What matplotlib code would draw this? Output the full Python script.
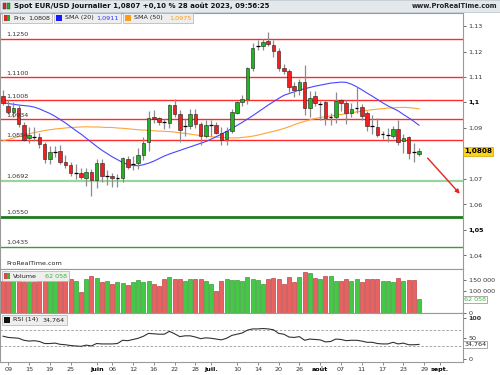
import numpy as np
import pandas as pd
import matplotlib
matplotlib.use('Agg')
import matplotlib.pyplot as plt
from matplotlib.patches import Rectangle

plt.rcParams['font.family'] = ['DejaVu Sans']

# daily candles, EUR/USD, 8 May -> 28 Aug 2023
opens = [1.1024, 1.0986, 1.0963, 1.0980, 1.0912, 1.0862, 1.0868, 1.0865, 1.0837, 1.0778,
         1.0806, 1.0810, 1.0767, 1.0755, 1.0723, 1.0723, 1.0704, 1.0727, 1.0696, 1.0763,
         1.0711, 1.0712, 1.0704, 1.0704, 1.0778, 1.0758, 1.0763, 1.0794, 1.0845, 1.0943,
         1.0939, 1.0924, 1.0920, 1.0990, 1.0955, 1.0906, 1.0908, 1.0955, 1.0916, 1.0869,
         1.0910, 1.0910, 1.0882, 1.0856, 1.0888, 1.0960, 1.1002, 1.1014, 1.1135, 1.1220,
         1.1222, 1.1240, 1.1226, 1.1202, 1.1134, 1.1122, 1.1063, 1.1049, 1.1082, 1.0978,
         1.1024, 1.0994, 1.1002, 1.0941, 1.0945, 1.1010, 1.0998, 1.0959, 1.0976, 1.0984,
         1.0959, 1.0908, 1.0904, 1.0876, 1.0873, 1.0869, 1.0896, 1.0849, 1.0865, 1.0807,
         1.0798]
highs = [1.1050, 1.1008, 1.1000, 1.0992, 1.0925, 1.0905, 1.0905, 1.0880, 1.0846, 1.0830,
         1.0830, 1.0835, 1.0795, 1.0765, 1.0760, 1.0745, 1.0745, 1.0740, 1.0778, 1.0780,
         1.0735, 1.0725, 1.0720, 1.0787, 1.0790, 1.0790, 1.0823, 1.0865, 1.0967, 1.0970,
         1.0945, 1.0935, 1.0995, 1.1012, 1.0970, 1.0935, 1.0975, 1.0975, 1.0925, 1.0930,
         1.0932, 1.0922, 1.0902, 1.0905, 1.0976, 1.1005, 1.1030, 1.1140, 1.1232, 1.1245,
         1.1250, 1.1276, 1.1244, 1.1215, 1.1150, 1.1130, 1.1080, 1.1092, 1.1149, 1.1045,
         1.1045, 1.1005, 1.1010, 1.0960, 1.1040, 1.1012, 1.1010, 1.0998, 1.1061, 1.0995,
         1.0965, 1.0950, 1.0940, 1.0890, 1.0900, 1.0906, 1.0930, 1.0875, 1.0870, 1.0840,
         1.0820]
lows = [1.0990, 1.0955, 1.0942, 1.0905, 1.0848, 1.0840, 1.0850, 1.0823, 1.0762, 1.0760,
        1.0786, 1.0760, 1.0745, 1.0710, 1.0700, 1.0700, 1.0673, 1.0635, 1.0666, 1.0690,
        1.0675, 1.0667, 1.0667, 1.0690, 1.0740, 1.0735, 1.0740, 1.0775, 1.0810, 1.0920,
        1.0910, 1.0897, 1.0900, 1.0945, 1.0845, 1.0870, 1.0895, 1.0900, 1.0835, 1.0860,
        1.0870, 1.0875, 1.0835, 1.0833, 1.0880, 1.0955, 1.0985, 1.0995, 1.1122, 1.1205,
        1.1205, 1.1220, 1.1180, 1.1122, 1.1110, 1.1040, 1.1020, 1.1030, 1.0950, 1.0945,
        1.0985, 1.0930, 1.0912, 1.0910, 1.0920, 1.0965, 1.0915, 1.0945, 1.0960, 1.0930,
        1.0890, 1.0875, 1.0865, 1.0855, 1.0845, 1.0860, 1.0835, 1.0800, 1.0780, 1.0766,
        1.0790]
closes = [1.0999, 1.0963, 1.0978, 1.0915, 1.0853, 1.0872, 1.0862, 1.0837, 1.0778, 1.0806,
          1.0807, 1.0767, 1.0755, 1.0723, 1.0724, 1.0708, 1.0727, 1.0696, 1.0763, 1.0712,
          1.0713, 1.0704, 1.0705, 1.0782, 1.0747, 1.0763, 1.0794, 1.0841, 1.0939, 1.0935,
          1.0924, 1.0922, 1.0990, 1.0955, 1.0892, 1.0908, 1.0955, 1.0916, 1.0869, 1.0910,
          1.0911, 1.0882, 1.0853, 1.0888, 1.0962, 1.1002, 1.1014, 1.1135, 1.1214, 1.1224,
          1.1238, 1.1228, 1.1202, 1.1134, 1.1122, 1.1061, 1.1049, 1.1082, 1.0978, 1.1016,
          1.0998, 1.0998, 1.0941, 1.0945, 1.1004, 1.0998, 1.0959, 1.0973, 1.0980, 1.0947,
          1.0908, 1.0904, 1.0873, 1.0876, 1.0874, 1.0896, 1.0845, 1.0861, 1.0802, 1.0805,
          1.0808]

sma20 = [1.1000, 1.0996, 1.0993, 1.0990, 1.0988, 1.0986, 1.0982, 1.0975, 1.0966, 1.0957,
         1.0946, 1.0933, 1.0920, 1.0905, 1.0890, 1.0876, 1.0860, 1.0844, 1.0828, 1.0813,
         1.0800, 1.0787, 1.0776, 1.0765, 1.0757, 1.0753, 1.0752, 1.0756, 1.0762, 1.0770,
         1.0780, 1.0790, 1.0798, 1.0805, 1.0812, 1.0819, 1.0826, 1.0833, 1.0840, 1.0847,
         1.0856, 1.0866, 1.0876, 1.0887, 1.0898, 1.0910, 1.0922, 1.0935, 1.0948, 1.0962,
         1.0976, 1.0990, 1.1003, 1.1016, 1.1028, 1.1035, 1.1042, 1.1049, 1.1054, 1.1059,
         1.1064, 1.1068, 1.1072, 1.1076, 1.1078, 1.1080, 1.1079, 1.1072, 1.1062, 1.1050,
         1.1037, 1.1025, 1.1012, 1.0999, 1.0987, 1.0977, 1.0967, 1.0953, 1.0940, 1.0926,
         1.0911]
sma50 = [1.0850, 1.0855, 1.0861, 1.0866, 1.0872, 1.0877, 1.0882, 1.0886, 1.0890, 1.0893,
         1.0896, 1.0898, 1.0900, 1.0902, 1.0903, 1.0904, 1.0905, 1.0904, 1.0904, 1.0903,
         1.0902, 1.0902, 1.0900, 1.0899, 1.0897, 1.0895, 1.0893, 1.0892, 1.0891, 1.0889,
         1.0888, 1.0887, 1.0886, 1.0884, 1.0881, 1.0879, 1.0876, 1.0873, 1.0870, 1.0868,
         1.0866, 1.0864, 1.0863, 1.0862, 1.0861, 1.0861, 1.0863, 1.0865, 1.0868, 1.0872,
         1.0877, 1.0882, 1.0887, 1.0892, 1.0898, 1.0905, 1.0913, 1.0920, 1.0926, 1.0932,
         1.0937, 1.0941, 1.0944, 1.0947, 1.0950, 1.0953, 1.0956, 1.0960, 1.0963, 1.0966,
         1.0969, 1.0972, 1.0974, 1.0976, 1.0978, 1.0979, 1.0980, 1.0981, 1.0980, 1.0978,
         1.0975]

volume = [147, 147, 147, 150, 139, 139, 139, 145, 147, 153,
          153, 153, 153, 153, 145, 94, 154, 168, 157, 139,
          145, 132, 139, 135, 127, 139, 150, 139, 147, 130,
          122, 154, 164, 154, 154, 147, 153, 153, 153, 147,
          132, 102, 145, 154, 148, 148, 145, 162, 153, 148,
          132, 153, 157, 153, 130, 162, 139, 162, 185, 180,
          157, 153, 168, 168, 147, 145, 154, 147, 154, 139,
          154, 154, 153, 147, 145, 140, 157, 145, 148, 148,
          62.058]

rsi = [55, 52, 51, 50, 45, 43, 44, 42, 37, 37,
       38, 35, 34, 32, 31, 30, 33, 31, 37, 36,
       36, 36, 37, 45, 44, 47, 50, 55, 62, 61,
       60, 60, 67, 61, 54, 56, 56, 53, 49, 51,
       50, 48, 46, 50, 57, 60, 63, 70, 73, 73,
       74, 73, 71, 62, 60, 53, 52, 54, 45, 48,
       47, 46, 41, 42, 48, 47, 44, 45, 45, 43,
       40, 40, 37, 36, 36, 40, 36, 38, 34, 34,
       34.764]

# support / resistance levels drawn on the chart
res_levels = [1.1250, 1.1100, 1.1008, 1.0934, 1.0854]
sup_levels = [1.0692, 1.0550, 1.0435]
sup_colors = ['#9ad49a', '#1f7a1f', '#3c9c3c']
sup_widths = [1.6, 2.0, 1.0]

tick_dates = ['2023-05-09', '2023-05-15', '2023-05-19', '2023-05-25', '2023-06-01',
              '2023-06-06', '2023-06-12', '2023-06-16', '2023-06-22', '2023-06-28',
              '2023-07-03', '2023-07-10', '2023-07-14', '2023-07-20', '2023-07-26',
              '2023-08-01', '2023-08-07', '2023-08-11', '2023-08-17', '2023-08-23',
              '2023-08-29', '2023-09-01']
tick_labels = ['09', '15', '19', '25', 'juin', '06', '12', '16', '22', '28', 'juil.',
               '10', '14', '20', '26', 'août', '07', '11', '17', '23', '29', 'sept.']
month_labels = ['juin', 'juil.', 'août', 'sept.']

days = pd.bdate_range('2023-05-08', '2023-09-15')
n = len(closes)
x = np.arange(n)

W, H = 500, 375
fig = plt.figure(figsize=(5, 3.75), dpi=100)
fig.patch.set_facecolor('white')


def box(x0, y0, x1, y1):
    # pixel box (top-left origin) -> figure fraction
    return [x0 / W, 1 - y1 / H, (x1 - x0) / W, (y1 - y0) / H]


ax_p = fig.add_axes(box(0, 13, 463, 269))
ax_v = fig.add_axes(box(0, 269, 463, 313), sharex=ax_p)
ax_r = fig.add_axes(box(0, 313, 463, 362), sharex=ax_p)

fs = 4.6
gray = '#9a9a9a'
for ax in (ax_p, ax_v, ax_r):
    ax.set_facecolor('white')
    for s in ax.spines.values():
        s.set_color(gray)
        s.set_linewidth(0.8)
    ax.yaxis.tick_right()
    ax.tick_params(axis='y', direction='out', length=2, width=0.6, color='#555555',
                   labelsize=fs, labelcolor='#333333', pad=2)
    ax.tick_params(axis='x', length=0, labelbottom=False)

ax_p.set_xlim(-0.58, 88.46)
ax_p.set_ylim(1.0347, 1.1351)
ax_v.set_ylim(0, 200000)
ax_r.set_ylim(-8.6, 112.3)

# price panel
for lv in res_levels:
    ax_p.axhline(lv, color='#ff2b2b', lw=1.0, zorder=1)
    ax_p.text(0.6, lv + 0.0006, ('%.4f' % lv).replace('.', ','), fontsize=fs,
              color='#333333', va='bottom', ha='left', zorder=5)
for lv, c, w in zip(sup_levels, sup_colors, sup_widths):
    ax_p.axhline(lv, color=c, lw=w, zorder=1)
    ax_p.text(0.6, lv + 0.0008, ('%.4f' % lv).replace('.', ','), fontsize=fs,
              color='#333333', va='bottom', ha='left', zorder=5)

ax_p.plot(x, sma50, color='#ffa436', lw=0.8, zorder=2)
ax_p.plot(x, sma20, color='#4646ff', lw=0.8, zorder=2)

bw = 0.72
for i in range(n):
    o, h, l, c = opens[i], highs[i], lows[i], closes[i]
    ax_p.vlines(i, l, h, color='#8c8c8c', lw=0.9, zorder=3)
    if abs(c - o) < 0.0006:
        ax_p.hlines((o + c) / 2, i - bw / 2, i + bw / 2, color='black', lw=0.9, zorder=4)
    else:
        fc = '#22b422' if c > o else '#f02020'
        ax_p.add_patch(Rectangle((i - bw / 2, min(o, c)), bw, abs(c - o),
                                 facecolor=fc, edgecolor='#202020', lw=0.4, zorder=4))

ax_p.annotate('', xy=(88.2, 1.0634), xytext=(81.3, 1.0790),
              arrowprops=dict(arrowstyle='-|>', color='#ee2020', lw=1.0,
                              mutation_scale=6), zorder=6)

ax_p.set_yticks([1.04, 1.05, 1.06, 1.07, 1.08, 1.09, 1.10, 1.11, 1.12, 1.13])
ax_p.set_yticklabels(['1,04', '1,05', '1,06', '1,07', '', '1,09', '1,1', '1,11',
                      '1,12', '1,13'])
for lab in ax_p.get_yticklabels():
    if lab.get_text() in ('1,1', '1,05'):
        lab.set_fontweight('bold')
        lab.set_color('black')
ax_p.text(1.003, closes[-1], ('%.4f' % closes[-1]).replace('.', ','),
          transform=ax_p.get_yaxis_transform(), fontsize=fs + 0.6, fontweight='bold',
          va='center', ha='left', zorder=7,
          bbox=dict(boxstyle='square,pad=0.15', fc='#ffd21a', ec='#c9a400', lw=0.5))
ax_p.text(0.6, 1.0357, 'ProRealTime.com', fontsize=fs, color='#222222', va='bottom')

# volume panel
vols = np.array(volume) * 1000
vcol = ['#45c845' if closes[i] >= opens[i] else '#e86262' for i in range(n)]
vedge = ['#1d8a1d' if closes[i] >= opens[i] else '#b02a2a' for i in range(n)]
ax_v.bar(x, vols, width=0.8, color=vcol, edgecolor=vedge, lw=0.4, zorder=2)
ax_v.set_yticks([0, 100000, 150000])
ax_v.set_yticklabels(['0', '100 000', '150 000'])
ax_v.text(1.003, vols[-1], '62 058', transform=ax_v.get_yaxis_transform(),
          fontsize=fs, color='#3cb43c', va='center', ha='left', zorder=7,
          bbox=dict(boxstyle='square,pad=0.15', fc='white', ec='#888888', lw=0.5))

# rsi panel
ax_r.axhline(70, color='#9a9a9a', lw=0.6, ls=(0, (3, 2)))
ax_r.axhline(30, color='#9a9a9a', lw=0.6, ls=(0, (3, 2)))
ax_r.plot(x, rsi, color='#333333', lw=0.8)
ax_r.set_yticks([0, 50, 100])
ax_r.set_yticklabels(['0', '50', '100'])
ax_r.get_yticklabels()[2].set_fontweight('bold')
ax_r.text(1.003, rsi[-1], '34,764', transform=ax_r.get_yaxis_transform(),
          fontsize=fs, color='#222222', va='center', ha='left', zorder=7,
          bbox=dict(boxstyle='square,pad=0.15', fc='white', ec='#888888', lw=0.5))

# date axis
pos = [days.get_loc(pd.Timestamp(d)) for d in tick_dates]
ax_r.set_xticks(pos)
ax_r.set_xticklabels(tick_labels)
ax_r.tick_params(axis='x', labelbottom=True, length=2, width=0.6, color='#777777',
                 labelsize=fs, labelcolor='#333333', pad=1.5, direction='out')
for lab in ax_r.get_xticklabels():
    if lab.get_text() in month_labels:
        lab.set_fontweight('bold')
        lab.set_color('black')

# header bar and legends (figure pixels)
fig.patches.append(Rectangle((0, 1 - 12 / H), 1, 12 / H, transform=fig.transFigure,
                             facecolor='#e3e8ec', edgecolor='#b8c0c8', lw=0.5, zorder=0))
# small candle icon in the header
for k, col in enumerate(['#d42a2a', '#2aa82a']):
    fig.patches.append(Rectangle(((3 + k * 4) / W, 1 - 9 / H), 3 / W, 6 / H,
                                 transform=fig.transFigure, facecolor=col,
                                 edgecolor='#333333', lw=0.3, zorder=1))
fig.text(14 / W, 1 - 6 / H, 'Spot EUR/USD Journalier 1,0807 +0,10 % 28 août 2023, 09:56:25',
         fontsize=fs + 0.4, fontweight='bold', va='center', ha='left', color='#111111')
fig.text(497 / W, 1 - 6 / H, 'www.ProRealTime.com', fontsize=fs + 0.2,
         fontweight='bold', va='center', ha='right', color='#222222')


def legend_box(x0, x1, y0, y1, parts, icon):
    fig.patches.append(Rectangle((x0 / W, 1 - y1 / H), (x1 - x0) / W, (y1 - y0) / H,
                                 transform=fig.transFigure, facecolor='#eeeeee',
                                 edgecolor='#b0b0b0', lw=0.5, zorder=5))
    for k, col in enumerate(icon):
        fig.patches.append(Rectangle(((x0 + 2 + k * 3) / W, 1 - (y1 - 2) / H), 3 / W,
                                     (y1 - y0 - 4) / H, transform=fig.transFigure,
                                     facecolor=col, edgecolor='none', zorder=6))
    xt = x0 + 3 + 3 * len(icon) + 2
    fig.text(xt / W, 1 - (y0 + y1) / 2 / H, parts[0], fontsize=fs, va='center',
             ha='left', color='#222222', zorder=7)
    fig.text((x1 - 2) / W, 1 - (y0 + y1) / 2 / H, parts[1], fontsize=fs, va='center',
             ha='right', color=parts[2], zorder=7)


legend_box(2, 52, 13, 23, ('Prix', '1,0808', '#222222'), ['#d42a2a', '#2aa82a'])
legend_box(54, 121, 13, 23, ('SMA (20)', '1,0911', '#3434ff'), ['#1a1aff', '#1a1aff'])
legend_box(123, 193, 13, 23, ('SMA (50)', '1,0975', '#ff9a1a'), ['#ff9a1a', '#ff9a1a'])
legend_box(2, 69, 271, 281, ('Volume', '62 058', '#3cb43c'), ['#d84a4a', '#3cb43c'])
legend_box(2, 67, 315, 325, ('RSI (14)', '34,764', '#222222'), ['#111111', '#111111'])

fig.savefig('out.png', dpi=100)
